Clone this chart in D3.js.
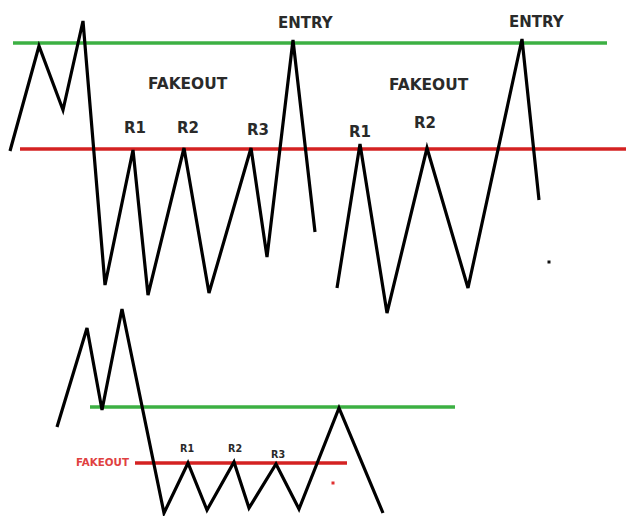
<!DOCTYPE html>
<html>
<head>
<meta charset="utf-8">
<script src="https://cdn.jsdelivr.net/npm/d3@7"></script>
<style>
  body { margin: 0; background: #fff; }
  svg { display: block; }
  text { font-family: "DejaVu Sans", sans-serif; font-weight: bold; }
</style>
</head>
<body>
<svg id="chart"></svg>
<script>
// price swings (x = time, y = price, in drawing units)
var swingTopA = [[10,151],[39,46],[63,110],[83,21],[105,285],[133,150],[148,295],[184,148],[209,293],[251,148],[267,257],[293,40],[315,232]];
var swingTopB = [[337,288],[360,144],[387,313],[427,148],[468,288],[522,39],[539,200]];
var swingBottom = [[57,427],[87,328],[102,410],[122,309],[164,513],[188,463],[207,510],[234,462],[249,508],[276,464],[299,509],[339,408],[383,513]];

// support / resistance levels: [x1, x2, y]
var greenLevels = [[13,607,43],[90,455,407]];
var redLevels = [[20,626,149],[135,347,463]];

// labels: [text, x, y, size]
var bigLabels = [["ENTRY",278,28,15],["ENTRY",509,27,15],["FAKEOUT",148,89,15.4],["FAKEOUT",389,90,15.4],
  ["R1",124,133,15],["R2",177,133,15],["R3",247,135,15],["R1",349,137,15],["R2",414,128,15]];
var smallLabels = [["R1",180,452,9.6],["R2",228,452,9.6],["R3",271,458,9.6]];
var redLabels = [["FAKEOUT",76,466,10.3]];
var dots = [[549,262,"#111"],[333,483,"#e03030"]];

var width = 626, height = 516;
var svg = d3.select("#chart").attr("width", width).attr("height", height);

var x = d3.scaleLinear().domain([0, 626]).range([0, width]);
var y = d3.scaleLinear().domain([0, 516]).range([0, height]);

svg.selectAll("line.green")
    .data(greenLevels)
    .enter().append("line")
    .attr("x1", d => x(d[0])).attr("x2", d => x(d[1]))
    .attr("y1", d => y(d[2])).attr("y2", d => y(d[2]))
    .style("stroke", "#3cb043")
    .style("stroke-width", 3.5);

svg.selectAll("line.red")
    .data(redLevels)
    .enter().append("line")
    .attr("x1", d => x(d[0])).attr("x2", d => x(d[1]))
    .attr("y1", d => y(d[2])).attr("y2", d => y(d[2]))
    .style("stroke", "#d42222")
    .style("stroke-width", 3.5);

var line = d3.line().x(d => x(d[0])).y(d => y(d[1]));

svg.selectAll("path.swing")
    .data([swingTopA, swingTopB, swingBottom])
    .enter().append("path")
    .attr("d", line)
    .style("fill", "none")
    .style("stroke", "#000")
    .style("stroke-width", 3.2)
    .style("stroke-linejoin", "miter");

svg.selectAll("rect.dot")
    .data(dots)
    .enter().append("rect")
    .attr("x", d => x(d[0]) - 1.5).attr("y", d => y(d[1]) - 1.5)
    .attr("width", 3).attr("height", 3)
    .style("fill", d => d[2]);

function addLabels(list, color) {
    svg.append("g").selectAll("text")
        .data(list)
        .enter().append("text")
        .attr("x", d => x(d[1]))
        .attr("y", d => y(d[2]))
        .style("font-size", d => d[3] + "px")
        .style("fill", color)
        .text(d => d[0]);
}
addLabels(bigLabels, "#2a2a2a");
addLabels(smallLabels, "#2a2a2a");
addLabels(redLabels, "#e04040");
</script>
</body>
</html>
